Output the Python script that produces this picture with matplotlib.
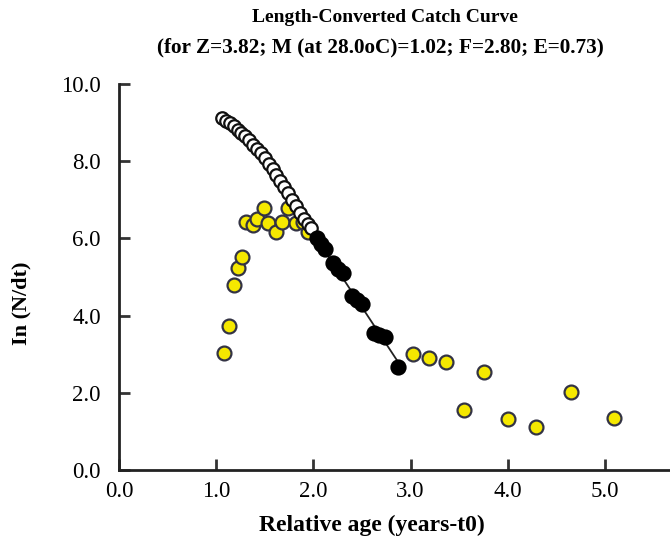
import numpy as np
import matplotlib.pyplot as plt

plt.rcParams['font.family'] = ['Liberation Serif', 'DejaVu Serif']

# data
# open points: back-extrapolated values (not used in regression)
open_age = [1.06, 1.10, 1.14, 1.18, 1.22, 1.26, 1.30, 1.34, 1.38, 1.42, 1.46, 1.50,
            1.54, 1.58, 1.62, 1.66, 1.70, 1.74, 1.78, 1.82, 1.86, 1.90, 1.94, 1.98]
open_ln = [9.12, 9.05, 8.98, 8.90, 8.82, 8.73, 8.64, 8.54, 8.43, 8.32, 8.20, 8.07,
           7.94, 7.80, 7.65, 7.50, 7.34, 7.17, 7.00, 6.83, 6.66, 6.50, 6.38, 6.28]

# yellow points: observed values not in regression
obs_age = [1.08, 1.13, 1.18, 1.22, 1.27, 1.31, 1.38, 1.42, 1.49, 1.53, 1.62, 1.68,
           1.74, 1.82, 1.89, 1.95,
           3.03, 3.19, 3.36, 3.55, 3.76, 4.00, 4.29, 4.65, 5.09]
obs_ln = [3.03, 3.73, 4.79, 5.23, 5.52, 6.43, 6.35, 6.50, 6.79, 6.40, 6.17, 6.43,
          6.79, 6.40, 6.43, 6.17,
          3.00, 2.90, 2.80, 1.55, 2.54, 1.32, 1.12, 2.02, 1.35]

# black points: used in the regression
reg_age = [2.04, 2.08, 2.12, 2.20, 2.25, 2.30, 2.40, 2.45, 2.50, 2.62, 2.68, 2.74, 2.87]
reg_ln = [6.00, 5.85, 5.72, 5.35, 5.22, 5.10, 4.50, 4.40, 4.30, 3.55, 3.50, 3.45, 2.68]

Z = 3.82
x_ticks = [0.0, 1.0, 2.0, 3.0, 4.0, 5.0]
y_ticks = [0.0, 2.0, 4.0, 6.0, 8.0, 10.0]

fig = plt.figure(figsize=(6.7, 5.4), dpi=100)
ax = fig.add_axes([119 / 670, 1 - 470 / 540, 1 - 119 / 670, (470 - 84) / 540])

# regression line with slope -Z
a = np.mean(reg_ln) + Z * np.mean(reg_age)
xl = np.array([min(reg_age) - 0.03, max(reg_age)])
ax.plot(xl, a - Z * xl, color='#222222', lw=1.3, zorder=2)

ax.plot(obs_age, obs_ln, 'o', ms=10, mfc='#f5e800', mec='#333344', mew=1.6, zorder=3)
ax.plot(open_age, open_ln, 'o', ms=9, mfc='white', mec='#111111', mew=1.6, zorder=4)
ax.plot(reg_age, reg_ln, 'o', ms=10.5, mfc='black', mec='black', mew=1.2, zorder=5)

ax.set_xlim(0, 5.67)
ax.set_ylim(0, 10)
ax.set_xticks(x_ticks)
ax.set_yticks(y_ticks)
ax.set_xticklabels([f"{v:.1f}" for v in x_ticks])
ax.set_yticklabels([f"{v:.1f}" for v in y_ticks])
ax.tick_params(direction='in', length=8, width=2, labelsize=16.5, color='#333333')
ax.tick_params(axis='y', pad=13)
ax.tick_params(axis='x', pad=8)
for s in ['top', 'right']:
    ax.spines[s].set_visible(False)
for s in ['left', 'bottom']:
    ax.spines[s].set_linewidth(2)
    ax.spines[s].set_color('#222222')
ax.patch.set_visible(False)

fig.text(385 / 670, 1 - 18 / 540, "Length-Converted Catch Curve", ha='center', va='center',
         fontsize=14, fontweight='bold')
fig.text(380 / 670, 1 - 47 / 540, "(for Z=3.82; M (at 28.0oC)=1.02; F=2.80; E=0.73)",
         ha='center', va='center', fontsize=15.3, fontweight='bold')
fig.text(372 / 670, 1 - 525 / 540, "Relative age (years-t0)", ha='center', va='center',
         fontsize=17, fontweight='bold')
fig.text(21 / 670, 1 - 303 / 540, "In (N/dt)", ha='center', va='center', rotation=90,
         fontsize=16, fontweight='bold')

fig.savefig('out.png', dpi=100)
